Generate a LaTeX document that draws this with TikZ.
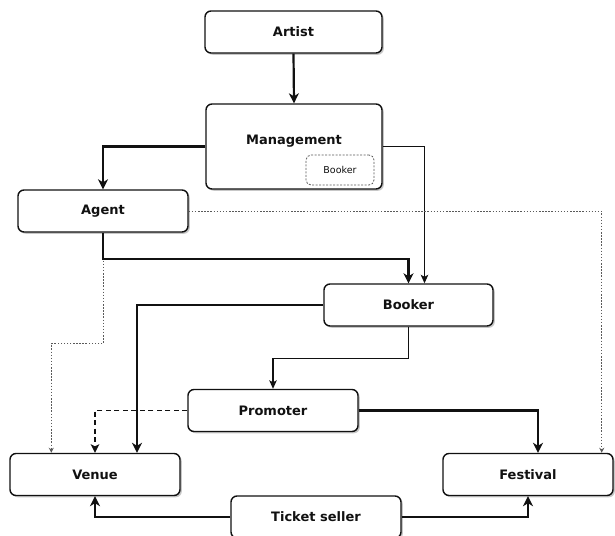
\documentclass[tikz,border=0pt]{standalone}
\usepackage{fontspec}
\setmainfont{DejaVu Sans}
\usetikzlibrary{arrows.meta,shadows}
\definecolor{inkc}{HTML}{111111}
\definecolor{dotc}{HTML}{5A5A5A}
\tikzset{
  box/.style={draw=inkc, line width=1.4pt, rounded corners=6pt, fill=white,
    minimum width=170pt, minimum height=42pt, inner sep=0pt,
    font=\fontsize{13}{15}\selectfont\bfseries, text=inkc,
    drop shadow={shadow xshift=1.8pt, shadow yshift=-1.8pt, opacity=0.22, fill=black}},
  innerbox/.style={draw=dotc, line width=0.8pt, dash pattern=on 2pt off 1.5pt, rounded corners=5pt,
    minimum width=68pt, minimum height=30pt, inner sep=0pt,
    font=\fontsize{9.5}{11}\selectfont, text=inkc},
  plain/.style={inner sep=0pt, font=\fontsize{13}{15}\selectfont\bfseries, text=inkc},
  thickarrow/.style={draw=inkc, line width=2.2pt, -{Stealth[length=10pt,width=10pt,inset=3pt]}},
  thinarrow/.style={draw=inkc, line width=1.2pt, -{Stealth[length=8.5pt,width=7.5pt,inset=2pt]}},
  dotarrow/.style={draw=dotc, line width=1pt, dash pattern=on 1.5pt off 1.6pt, -{Stealth[length=5pt,width=5pt,inset=1.5pt]}},
  dasharrow/.style={draw=inkc, line width=1.7pt, dash pattern=on 5pt off 3.5pt, -{Stealth[length=8.5pt,width=8.5pt,inset=2pt]}},
}
\begin{document}
\begin{tikzpicture}[x=1pt,y=-1pt]
\useasboundingbox (0,0) rectangle (615,535);
\clip (0,0) rectangle (615,535);
% nodes
\node[box, minimum width=177pt] (artist) at (293.5,32) {Artist};
\node[box, minimum width=176pt, minimum height=85pt] (mgmt) at (294,146.5) {};
\node[plain] (mgmtlabel) at (294,141) {Management};
\node[innerbox] (innerbooker) at (340,170) {Booker};
\node[box] (agent) at (103,211) {Agent};
\node[box, minimum width=169pt] (booker) at (408.5,305) {Booker};
\node[box] (promoter) at (273,410.5) {Promoter};
\node[box] (venue) at (95,474.5) {Venue};
\node[box] (festival) at (528,474.5) {Festival};
\node[box] (ticket) at (316,517) {Ticket seller};
% connectors
\draw[thickarrow] (artist.south) -- (mgmt.north);
\draw[thickarrow] (mgmt.west) -| (agent.north);
\draw[thinarrow] (mgmt.east) -| ([xshift=16pt]booker.north);
\draw[dotarrow] (agent.east) -| ([xshift=-12pt]festival.north east);
\draw[dotarrow] (agent.south) -- ++(0,111) -| ([xshift=42pt]venue.north west);
\draw[thickarrow] (agent.south) -- ++(0,26) -| (booker.north);
\draw[thickarrow] (booker.west) -| ([xshift=42pt]venue.north);
\draw[thinarrow] (booker.south) -- ++(0,32) -| (promoter.north);
\draw[dasharrow] (promoter.west) -| (venue.north);
\draw[thickarrow] (promoter.east) -| ([xshift=10pt]festival.north);
\draw[thickarrow] (ticket.west) -| (venue.south);
\draw[thickarrow] (ticket.east) -| (festival.south);
\end{tikzpicture}
\end{document}
